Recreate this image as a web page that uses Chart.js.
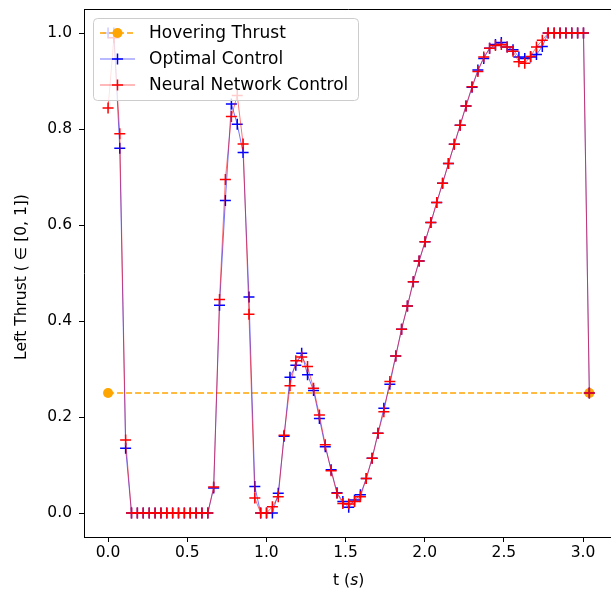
<!DOCTYPE html>
<html>
<head>
<meta charset="utf-8">
<script src="https://cdn.jsdelivr.net/npm/chart.js@4.4.1/dist/chart.umd.min.js"></script>
<style>
  html, body { margin: 0; padding: 0; background: #fff; overflow: hidden; }
  #wrap { width: 611px; height: 595px; overflow: hidden; }
</style>
</head>
<body>
<div id="wrap"><canvas id="thrustChart" width="625" height="595"></canvas></div>
<script>
// time grid (s)
const timeS = [
  0.000, 0.037, 0.074, 0.111, 0.148, 0.185, 0.222, 0.260, 0.297, 0.334,
  0.371, 0.408, 0.445, 0.482, 0.519, 0.556, 0.593, 0.630, 0.667, 0.704,
  0.741, 0.779, 0.816, 0.853, 0.890, 0.927, 0.964, 1.001, 1.038, 1.075,
  1.112, 1.149, 1.186, 1.223, 1.260, 1.298, 1.335, 1.372, 1.409, 1.446,
  1.483, 1.520, 1.557, 1.594, 1.631, 1.668, 1.705, 1.742, 1.780, 1.817,
  1.854, 1.891, 1.928, 1.965, 2.002, 2.039, 2.076, 2.113, 2.150, 2.187,
  2.224, 2.261, 2.299, 2.336, 2.373, 2.410, 2.447, 2.484, 2.521, 2.558,
  2.595, 2.632, 2.669, 2.706, 2.743, 2.780, 2.818, 2.855, 2.892, 2.929,
  2.966, 3.003, 3.040
];

// left thrust, optimal control
const optimalThrust = [
  1.000, 1.000, 0.760, 0.135, 0.000, 0.000, 0.000, 0.000, 0.000, 0.000,
  0.000, 0.000, 0.000, 0.000, 0.000, 0.000, 0.000, 0.000, 0.052, 0.433,
  0.651, 0.852, 0.810, 0.751, 0.450, 0.055, 0.000, 0.000, 0.000, 0.041,
  0.160, 0.283, 0.308, 0.333, 0.288, 0.255, 0.197, 0.138, 0.090, 0.042,
  0.024, 0.012, 0.027, 0.038, 0.072, 0.114, 0.166, 0.218, 0.268, 0.327,
  0.383, 0.431, 0.482, 0.525, 0.565, 0.605, 0.647, 0.687, 0.728, 0.768,
  0.808, 0.848, 0.887, 0.923, 0.947, 0.968, 0.976, 0.980, 0.971, 0.965,
  0.950, 0.947, 0.950, 0.955, 0.972, 1.000, 1.000, 1.000, 1.000, 1.000,
  1.000, 1.000, 0.250
];

// left thrust, neural network control
const networkThrust = [
  0.844, 0.990, 0.790, 0.152, 0.000, 0.000, 0.000, 0.000, 0.000, 0.000,
  0.000, 0.000, 0.000, 0.000, 0.000, 0.000, 0.000, 0.000, 0.054, 0.445,
  0.695, 0.826, 0.870, 0.769, 0.414, 0.031, 0.000, 0.000, 0.013, 0.034,
  0.162, 0.265, 0.317, 0.325, 0.305, 0.260, 0.204, 0.142, 0.088, 0.041,
  0.020, 0.019, 0.024, 0.034, 0.072, 0.114, 0.166, 0.211, 0.274, 0.327,
  0.383, 0.431, 0.482, 0.525, 0.565, 0.605, 0.647, 0.687, 0.728, 0.768,
  0.808, 0.848, 0.888, 0.920, 0.950, 0.968, 0.974, 0.976, 0.971, 0.962,
  0.940, 0.937, 0.951, 0.971, 0.985, 1.000, 1.000, 1.000, 1.000, 1.000,
  1.000, 1.000, 0.250
];

// hovering thrust reference (start and end of the horizon)
const hoverTimes = [0.0, 3.04];
const hoverThrust = [0.25, 0.25];

const xTicks = [0.0, 0.5, 1.0, 1.5, 2.0, 2.5, 3.0];
const yTicks = [0.0, 0.2, 0.4, 0.6, 0.8, 1.0];

const FONT = 'DejaVu Sans';

document.addEventListener('DOMContentLoaded', () => {
    const ctx = document.getElementById('thrustChart').getContext('2d');

    const toPoints = (xs, ys) => xs.map((x, i) => ({ x: x, y: ys[i] }));

    // legend in the upper left corner, drawn over the lines (like matplotlib)
    const boxLegend = {
        id: 'boxLegend',
        afterDatasetsDraw(chart) {
            const c = chart.ctx;
            const x0 = 93, y0 = 18, w = 265, h = 82;
            c.save();
            c.beginPath();
            c.roundRect(x0 + 0.5, y0 + 0.5, w, h, 4);
            c.fillStyle = 'rgba(255,255,255,0.8)';
            c.fill();
            c.strokeStyle = '#cccccc';
            c.lineWidth = 1;
            c.stroke();

            chart.data.datasets.forEach((ds, i) => {
                const y = y0 + 15 + i * 26;
                c.strokeStyle = ds.borderColor;
                c.lineWidth = ds.borderWidth;
                c.setLineDash(ds.borderDash || []);
                c.beginPath();
                c.moveTo(100, y);
                c.lineTo(135, y);
                c.stroke();
                c.setLineDash([]);
                const mx = 117.5;
                if (ds.pointStyle === 'circle') {
                    c.fillStyle = ds.pointBackgroundColor;
                    c.beginPath();
                    c.arc(mx, y, ds.pointRadius, 0, Math.PI * 2);
                    c.fill();
                } else {
                    c.strokeStyle = ds.pointBorderColor;
                    c.lineWidth = ds.pointBorderWidth;
                    c.beginPath();
                    c.moveTo(mx - ds.pointRadius, y);
                    c.lineTo(mx + ds.pointRadius, y);
                    c.moveTo(mx, y - ds.pointRadius);
                    c.lineTo(mx, y + ds.pointRadius);
                    c.stroke();
                }
                c.fillStyle = '#000';
                c.font = '17px "' + FONT + '"';
                c.textBaseline = 'middle';
                c.fillText(ds.label, 149, y + 1);
            });
            c.restore();
        }
    };

    // top spine + axis labels (x label has an italic "s")
    const frameAndTitles = {
        id: 'frameAndTitles',
        afterDraw(chart) {
            const c = chart.ctx;
            const a = chart.chartArea;
            c.save();
            c.strokeStyle = '#000';
            c.lineWidth = 1;
            c.beginPath();
            c.moveTo(a.left, a.top + 0.5);
            c.lineTo(a.right, a.top + 0.5);
            c.stroke();

            c.fillStyle = '#000';
            c.textBaseline = 'middle';
            const parts = [['t (', 'normal'], ['s', 'italic'], [')', 'normal']];
            let total = 0;
            parts.forEach(p => {
                c.font = p[1] + ' 15.5px "' + FONT + '"';
                total += c.measureText(p[0]).width;
            });
            let x = (a.left + a.right) / 2 - total / 2;
            parts.forEach(p => {
                c.font = p[1] + ' 15.5px "' + FONT + '"';
                c.fillText(p[0], x, 581);
                x += c.measureText(p[0]).width;
            });

            c.translate(22, (a.top + a.bottom) / 2 + 4);
            c.rotate(-Math.PI / 2);
            c.textAlign = 'center';
            c.font = '15.5px "' + FONT + '"';
            c.fillText('Left Thrust ( \u2208 [0, 1])', 0, 0);
            c.restore();
        }
    };

    new Chart(ctx, {
        type: 'line',
        data: {
            datasets: [
                {
                    label: 'Hovering Thrust',
                    data: toPoints(hoverTimes, hoverThrust),
                    borderColor: '#ffa500',
                    borderWidth: 1.3,
                    borderDash: [6, 3],
                    pointStyle: 'circle',
                    pointRadius: 5,
                    pointBackgroundColor: '#ffa500',
                    pointBorderColor: '#ffa500',
                    pointBorderWidth: 0,
                    order: 2
                },
                {
                    label: 'Optimal Control',
                    data: toPoints(timeS, optimalThrust),
                    borderColor: 'rgba(0,0,255,0.55)',
                    borderWidth: 1,
                    pointStyle: 'cross',
                    pointRadius: 5.5,
                    pointBorderColor: '#0000ff',
                    pointBackgroundColor: '#0000ff',
                    pointBorderWidth: 1.5,
                    order: 1
                },
                {
                    label: 'Neural Network Control',
                    data: toPoints(timeS, networkThrust),
                    borderColor: 'rgba(255,0,0,0.55)',
                    borderWidth: 1,
                    pointStyle: 'cross',
                    pointRadius: 5.5,
                    pointBorderColor: '#ff0000',
                    pointBackgroundColor: '#ff0000',
                    pointBorderWidth: 1.5,
                    order: 0
                }
            ]
        },
        options: {
            responsive: false,
            animation: false,
            devicePixelRatio: 1,
            layout: { padding: { top: 9, right: 11.6, left: 0, bottom: 0 } },
            scales: {
                x: {
                    type: 'linear',
                    min: -0.152,
                    max: 3.192,
                    afterFit: s => { s.height = 58; s.paddingLeft = 0; s.paddingRight = 0; },
                    afterBuildTicks: s => { s.ticks = xTicks.map(v => ({ value: v })); },
                    grid: { drawOnChartArea: false, drawTicks: true, tickLength: 5, color: '#000' },
                    border: { display: true, color: '#000', width: 1 },
                    ticks: {
                        color: '#000',
                        padding: 2,
                        maxRotation: 0,
                        font: { family: FONT, size: 15.5 },
                        callback: v => v.toFixed(1)
                    }
                },
                y: {
                    type: 'linear',
                    min: -0.05,
                    max: 1.05,
                    afterFit: s => { s.width = 84; s.paddingTop = 0; s.paddingBottom = 0; },
                    afterBuildTicks: s => { s.ticks = yTicks.map(v => ({ value: v })); },
                    grid: { drawOnChartArea: false, drawTicks: true, tickLength: 5, color: '#000' },
                    border: { display: true, color: '#000', width: 1 },
                    ticks: {
                        color: '#000',
                        padding: 7,
                        font: { family: FONT, size: 15.5 },
                        callback: v => v.toFixed(1)
                    }
                }
            },
            plugins: {
                legend: { display: false },
                tooltip: { enabled: false }
            }
        },
        plugins: [boxLegend, frameAndTitles]
    });
});
</script>
</body>
</html>
